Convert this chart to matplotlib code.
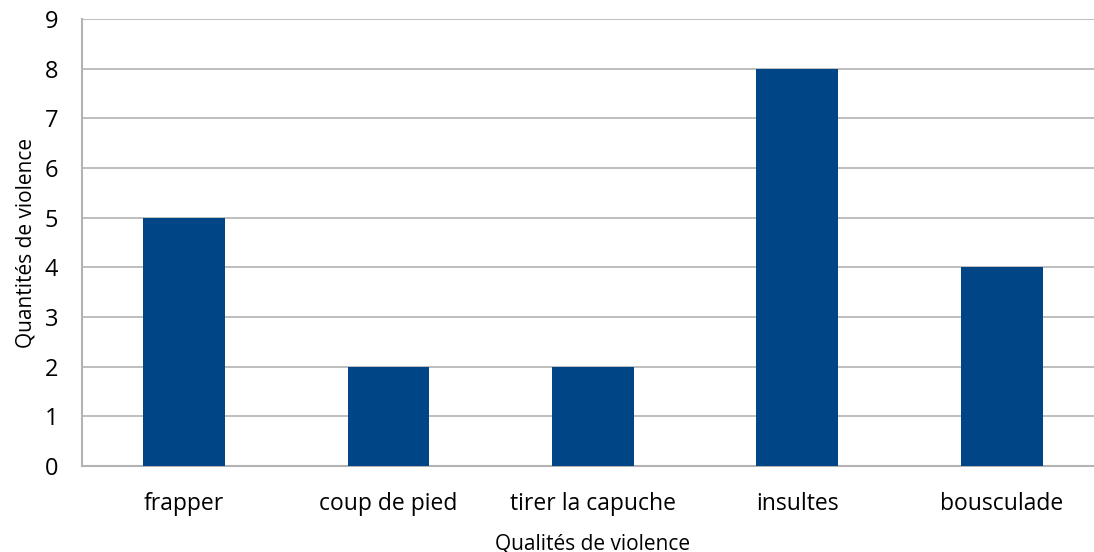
import numpy as np
import matplotlib.pyplot as plt

plt.rcParams['font.family'] = ['Open Sans', 'DejaVu Sans']

# Data
categories = ["frapper", "coup de pied", "tirer la capuche", "insultes", "bousculade"]
values = [5, 2, 2, 8, 4]

fig = plt.figure(figsize=(10.94, 5.52), dpi=100)
ax = fig.add_axes([0.075, 0.1558, 0.934, 0.81])

x = np.arange(len(categories))
ax.bar(x, values, width=0.4, color="#004586", zorder=3)

ax.set_xlim(-0.5, len(categories) - 0.5)
ax.set_ylim(0, 9)
ax.set_yticks(range(0, 10))
ax.set_xticks(x)
ax.set_xticklabels(categories)
ax.tick_params(axis='both', length=0, colors="black")
ax.tick_params(axis='x', labelsize=16.5, pad=19)
ax.tick_params(axis='y', labelsize=17, pad=17)

ax.grid(axis='y', color="#b3b3b3", linewidth=1.2, zorder=0)
ax.spines['top'].set_visible(False)
ax.spines['right'].set_visible(False)
ax.spines['left'].set_color("#b3b3b3")
ax.spines['bottom'].set_color("#b3b3b3")
ax.spines['left'].set_linewidth(1.5)
ax.spines['bottom'].set_linewidth(1.5)

ax.set_xlabel("Qualités de violence", fontsize=15, labelpad=12)
ax.set_ylabel("Quantités de violence", fontsize=15, labelpad=6)

fig.savefig("out.png", dpi=100)
